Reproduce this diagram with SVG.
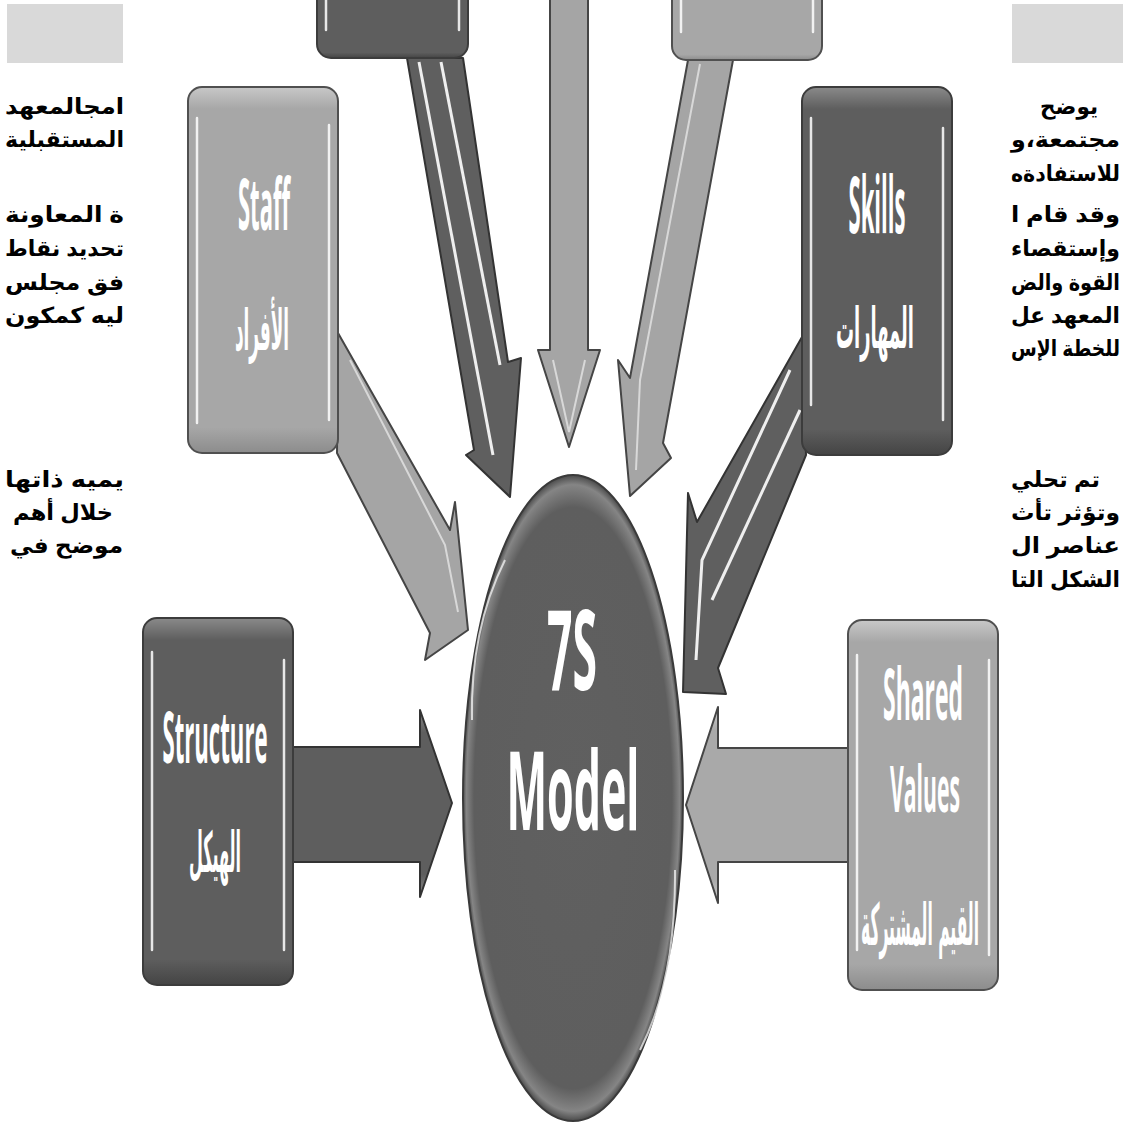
<svg xmlns="http://www.w3.org/2000/svg" width="1126" height="1131" viewBox="0 0 1126 1131">
<defs>
<linearGradient id="gDark" x1="0" y1="0" x2="0" y2="1">
<stop offset="0" stop-color="#8a8a8a"/><stop offset="0.06" stop-color="#5e5e5e"/><stop offset="0.93" stop-color="#5e5e5e"/><stop offset="1" stop-color="#444"/>
</linearGradient>
<linearGradient id="gLight" x1="0" y1="0" x2="0" y2="1">
<stop offset="0" stop-color="#c8c8c8"/><stop offset="0.06" stop-color="#a7a7a7"/><stop offset="0.93" stop-color="#a7a7a7"/><stop offset="1" stop-color="#8c8c8c"/>
</linearGradient>
<linearGradient id="gShaftDark" x1="0" y1="0" x2="0" y2="1">
<stop offset="0" stop-color="#8a8a8a"/><stop offset="0.12" stop-color="#5e5e5e"/><stop offset="0.88" stop-color="#5e5e5e"/><stop offset="1" stop-color="#8a8a8a"/>
</linearGradient>
<linearGradient id="gShaftLight" x1="0" y1="0" x2="0" y2="1">
<stop offset="0" stop-color="#cfcfcf"/><stop offset="0.12" stop-color="#a9a9a9"/><stop offset="0.88" stop-color="#a9a9a9"/><stop offset="1" stop-color="#cfcfcf"/>
</linearGradient>
<radialGradient id="gEll" cx="0.5" cy="0.5" r="0.5">
<stop offset="0" stop-color="#606060"/><stop offset="0.9" stop-color="#5e5e5e"/><stop offset="0.97" stop-color="#858585"/><stop offset="1" stop-color="#4a4a4a"/>
</radialGradient>
</defs>
<style>
.para{font-family:"Liberation Sans","DejaVu Sans",sans-serif;font-weight:bold;font-size:22px;fill:#000}
.hdr{fill:#d9d9d9}
.bd{fill:url(#gDark);stroke:#3c3c3c;stroke-width:2}
.bl{fill:url(#gLight);stroke:#505050;stroke-width:2}
.hl{stroke:#ffffff;stroke-width:2.5;stroke-linecap:round;opacity:0.85}
.en{font-family:"Open Sans","DejaVu Sans",sans-serif;font-weight:700;fill:#ffffff;text-anchor:middle}
.ar{font-family:"DejaVu Sans","Noto Sans",sans-serif;font-weight:bold;fill:#ffffff;text-anchor:middle}
.ad{fill:#5f5f5f;stroke:#333;stroke-width:2;stroke-linejoin:round}
.al{fill:#a5a5a5;stroke:#454545;stroke-width:2;stroke-linejoin:round}
.st{stroke:#ffffff;stroke-width:3;fill:none;opacity:0.9}
.stl{stroke:#d8d8d8;stroke-width:2;fill:none}
</style>
<rect x="0" y="0" width="1126" height="1131" fill="#ffffff"/>

<g id="text-left">
<rect class="hdr" x="7" y="4" width="116" height="59"/>
<text class="para" x="5" y="114" textLength="119" lengthAdjust="spacingAndGlyphs">امجالمعهد</text>
<text class="para" x="5" y="147" textLength="119" lengthAdjust="spacingAndGlyphs">المستقبلية</text>
<text class="para" x="5" y="222" textLength="119" lengthAdjust="spacingAndGlyphs">ة المعاونة</text>
<text class="para" x="5" y="256" textLength="119" lengthAdjust="spacingAndGlyphs">تحديد نقاط</text>
<text class="para" x="5" y="290" textLength="119" lengthAdjust="spacingAndGlyphs">فق مجلس</text>
<text class="para" x="5" y="323" textLength="119" lengthAdjust="spacingAndGlyphs">ليه كمكون</text>
<text class="para" x="5" y="487" textLength="119" lengthAdjust="spacingAndGlyphs">يميه ذاتها</text>
<text class="para" x="13" y="520" textLength="100" lengthAdjust="spacingAndGlyphs">خلال أهم</text>
<text class="para" x="10" y="553" textLength="113" lengthAdjust="spacingAndGlyphs">موضح في</text>
</g>

<g id="text-right">
<rect class="hdr" x="1012" y="4" width="111" height="59"/>
<text class="para" x="1098" y="114" text-anchor="end" textLength="58" lengthAdjust="spacingAndGlyphs">يوضح</text>
<text class="para" x="1120" y="147" text-anchor="end" textLength="109" lengthAdjust="spacingAndGlyphs">مجتمعة،و</text>
<text class="para" x="1120" y="181" text-anchor="end" textLength="109" lengthAdjust="spacingAndGlyphs">للاستفادةه</text>
<text class="para" x="1120" y="222" text-anchor="end" textLength="109" lengthAdjust="spacingAndGlyphs">وقد قام ا</text>
<text class="para" x="1120" y="256" text-anchor="end" textLength="109" lengthAdjust="spacingAndGlyphs">وإستقصاء</text>
<text class="para" x="1120" y="290" text-anchor="end" textLength="109" lengthAdjust="spacingAndGlyphs">القوة والض</text>
<text class="para" x="1120" y="323" text-anchor="end" textLength="109" lengthAdjust="spacingAndGlyphs">المعهد عل</text>
<text class="para" x="1120" y="356" text-anchor="end" textLength="109" lengthAdjust="spacingAndGlyphs">للخطة الإس</text>
<text class="para" x="1100" y="487" text-anchor="end" textLength="89" lengthAdjust="spacingAndGlyphs">تم تحلي</text>
<text class="para" x="1120" y="520" text-anchor="end" textLength="109" lengthAdjust="spacingAndGlyphs">وتؤثر تأث</text>
<text class="para" x="1120" y="553" text-anchor="end" textLength="109" lengthAdjust="spacingAndGlyphs">عناصر ال</text>
<text class="para" x="1120" y="587" text-anchor="end" textLength="109" lengthAdjust="spacingAndGlyphs">الشكل التا</text>
</g>

<g id="connectors">
<!-- center vertical arrow -->
<polygon class="al" points="550,-2 588,-2 588,350 600,350 569,447 538,350 550,350"/>
<polyline class="stl" points="553,360 569,432 585,360"/>
<!-- top-left arrow -->
<polygon class="ad" points="407,58 463,58 508,362 521,358 510,497 466,455 474,450"/>
<polyline class="st" points="419,62 493,455"/>
<polyline class="st" points="441,62 500,365"/>
<!-- top-right arrow -->
<polygon class="al" points="688,60 733,60 663,443 671,458 630,496 618,360 630,378"/>
<polyline class="stl" points="700,64 640,380 636,470"/>
<!-- staff arrow -->
<polygon class="al" points="338,333 450,530 455,502 468,630 425,660 430,633 337,453"/>
<polyline class="stl" points="350,360 445,545 458,612"/>
<!-- skills arrow -->
<polygon class="ad" points="802,337 697,522 688,493 683,692 726,694 718,668 806,455"/>
<polyline class="st" points="790,370 702,560 696,660"/>
<polyline class="st" points="800,410 712,600"/>
<!-- structure arrow -->
<polygon class="ad" style="fill:url(#gShaftDark)" points="292,747 420,747 420,710 452,803 420,897 420,862 292,862"/>
<!-- shared values arrow -->
<polygon class="al" style="fill:url(#gShaftLight)" points="848,748 718,748 718,707 686,805 718,903 718,862 848,862"/>
</g>

<g id="box-top-left">
<rect class="bd" x="317" y="-20" width="151" height="78" rx="14"/>
<line class="hl" x1="326" y1="-5" x2="326" y2="30"/>
<line class="hl" x1="459" y1="-5" x2="459" y2="30"/>
</g>
<g id="box-top-right">
<rect class="bl" x="672" y="-20" width="150" height="80" rx="14"/>
<line class="hl" x1="681" y1="-5" x2="681" y2="32"/>
<line class="hl" x1="813" y1="-5" x2="813" y2="32"/>
</g>

<g id="staff">
<rect class="bl" x="188" y="87" width="150" height="366" rx="14"/>
<line class="hl" x1="197" y1="118" x2="197" y2="423"/>
<line class="hl" x1="329" y1="125" x2="329" y2="420"/>
<text class="en" x="264" y="230" font-size="72" textLength="52" lengthAdjust="spacingAndGlyphs">Staff</text>
<text class="ar" x="262" y="350" font-size="56" textLength="54" lengthAdjust="spacingAndGlyphs">الأفراد</text>
</g>

<g id="skills">
<rect class="bd" x="802" y="87" width="150" height="368" rx="14"/>
<line class="hl" x1="811" y1="118" x2="811" y2="405"/>
<line class="hl" x1="943" y1="128" x2="943" y2="420"/>
<text class="en" x="877" y="233" font-size="78" textLength="57" lengthAdjust="spacingAndGlyphs">Skills</text>
<text class="ar" x="875" y="348" font-size="56" textLength="78" lengthAdjust="spacingAndGlyphs">المهارات</text>
</g>

<g id="structure">
<rect class="bd" x="143" y="618" width="150" height="367" rx="14"/>
<line class="hl" x1="152" y1="652" x2="152" y2="950"/>
<line class="hl" x1="284" y1="660" x2="284" y2="950"/>
<text class="en" x="215" y="763" font-size="72" textLength="105" lengthAdjust="spacingAndGlyphs">Structure</text>
<text class="ar" x="215" y="872" font-size="56" textLength="52" lengthAdjust="spacingAndGlyphs">الهيكل</text>
</g>

<g id="shared-values">
<rect class="bl" x="848" y="620" width="150" height="370" rx="14"/>
<line class="hl" x1="857" y1="655" x2="857" y2="950"/>
<line class="hl" x1="989" y1="660" x2="989" y2="955"/>
<text class="en" x="923" y="720" font-size="72" textLength="80" lengthAdjust="spacingAndGlyphs">Shared</text>
<text class="en" x="925" y="812" font-size="64" textLength="70" lengthAdjust="spacingAndGlyphs">Values</text>
<text class="ar" x="920" y="945" font-size="58" textLength="118" lengthAdjust="spacingAndGlyphs">القيم المشتركة</text>
</g>

<g id="model">
<ellipse cx="573" cy="798" rx="110" ry="323" fill="url(#gEll)" stroke="#3a3a3a" stroke-width="2"/>
<path d="M472,720 Q470,630 505,560" fill="none" stroke="#ffffff" stroke-width="2" opacity="0.7"/>
<path d="M675,870 Q676,980 640,1050" fill="none" stroke="#ffffff" stroke-width="2" opacity="0.7"/>
<text class="en" x="572" y="690" font-size="112" textLength="50" lengthAdjust="spacingAndGlyphs">7S</text>
<text class="en" x="573" y="830" font-size="110" textLength="133" lengthAdjust="spacingAndGlyphs">Model</text>
</g>
</svg>
